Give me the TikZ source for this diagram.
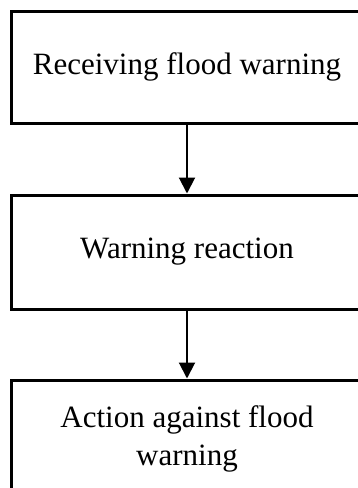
\documentclass[tikz,border=0pt]{standalone}
\usepackage{fontspec}
\setmainfont{Liberation Serif}
\usetikzlibrary{arrows.meta}
\begin{document}
\begin{tikzpicture}[x=1pt,y=-1pt,
  stagebox/.style={draw=black,line width=3pt,rectangle,minimum width=352pt,
    inner sep=0pt,align=center,font=\fontsize{31}{38}\selectfont},
  flow/.style={line width=2pt,-{Triangle[width=16pt,length=16pt]}}]
  \useasboundingbox (0,0) rectangle (358,488);
  \clip (0,0) rectangle (358,488);
  \node[stagebox,minimum height=112pt] (receive) at (187,67) {Receiving flood warning};
  \node[stagebox,minimum height=114pt] (react) at (187,252) {Warning reaction};
  \node[stagebox,minimum height=118pt] (act) at (187,439) {Action against flood\\warning};
  \draw[flow] (receive) -- (react);
  \draw[flow] (react) -- (act);
\end{tikzpicture}
\end{document}
